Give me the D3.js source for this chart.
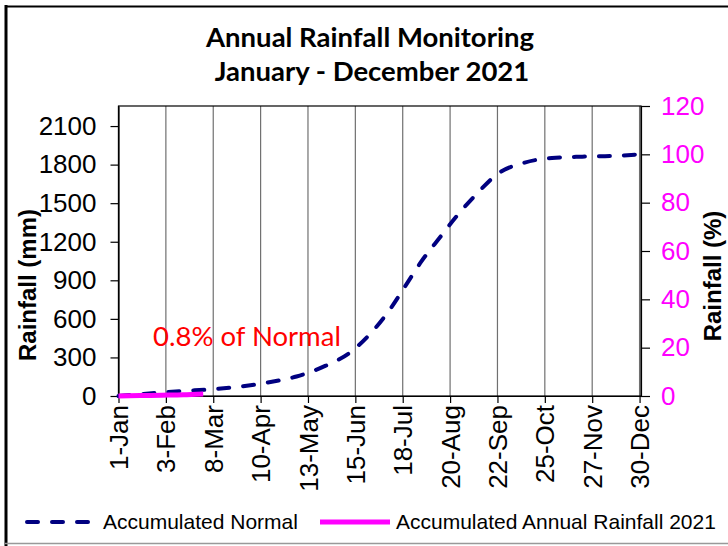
<!DOCTYPE html>
<html>
<head>
<meta charset="utf-8">
<script src="https://cdn.jsdelivr.net/npm/d3@7"></script>
<style>
  body { margin: 0; background: #fff; }
  svg { display: block; }
</style>
</head>
<body>
<script>
const w = 728;
const h = 546;

// accumulated normal rainfall (mm)
const normalDates = ["2021-01-01", "2021-01-26", "2021-02-15", "2021-03-07", "2021-03-27", "2021-04-16",
                     "2021-05-05", "2021-05-25", "2021-06-11", "2021-06-26", "2021-07-09", "2021-07-20",
                     "2021-07-31", "2021-08-13", "2021-08-25", "2021-09-08", "2021-09-22", "2021-10-11",
                     "2021-10-30", "2021-11-20", "2021-12-10", "2021-12-31"];
const normalMm = [0, 23, 39, 52, 74, 107, 152, 234, 336, 492, 672, 859,
                  1047, 1235, 1405, 1578, 1727, 1816, 1852, 1862, 1867, 1880];

// accumulated 2021 rainfall (mm)
const rainDates = ["2021-01-01", "2021-01-16", "2021-01-31", "2021-02-15", "2021-03-01"];
const rainMm = [0, 3, 6, 9, 15];

const xTickDates = ["2021-01-01", "2021-02-03", "2021-03-08", "2021-04-10", "2021-05-13", "2021-06-15",
                    "2021-07-18", "2021-08-20", "2021-09-22", "2021-10-25", "2021-11-27", "2021-12-30"];
const xTickLabels = ["1-Jan", "3-Feb", "8-Mar", "10-Apr", "13-May", "15-Jun",
                     "18-Jul", "20-Aug", "22-Sep", "25-Oct", "27-Nov", "30-Dec"];
const mmTicks = [0, 300, 600, 900, 1200, 1500, 1800, 2100];
const pctTicks = [0, 20, 40, 60, 80, 100, 120];

const plotLeft = 118.5, plotRight = 641, plotTop = 106, plotBottom = 396;
const parse = d3.timeParse("%Y-%m-%d");

const xScale = d3.scaleTime()
                 .domain([parse("2021-01-01"), parse("2021-12-31")])
                 .range([plotLeft, plotRight]);
const yScale = d3.scaleLinear()
                 .domain([0, 2256])
                 .range([plotBottom, plotTop]);
const pScale = d3.scaleLinear()
                 .domain([0, 120])
                 .range([plotBottom, plotTop]);

const svg = d3.select("body")
              .append("svg")
              .attr("width", w)
              .attr("height", h);

// chart frame
svg.append("line").attr("x1", 5).attr("x2", w).attr("y1", 6.5).attr("y2", 6.5)
   .attr("stroke", "#000").attr("stroke-width", 2);
svg.append("line").attr("x1", 6).attr("x2", 6).attr("y1", 5).attr("y2", h)
   .attr("stroke", "#000").attr("stroke-width", 3);
svg.append("line").attr("x1", 5).attr("x2", w).attr("y1", 543.5).attr("y2", 543.5)
   .attr("stroke", "#999").attr("stroke-width", 1.5);

// title
const title = svg.append("text")
   .attr("text-anchor", "middle")
   .attr("font-family", "Lato, 'Open Sans', sans-serif")
   .attr("font-weight", "bold")
   .attr("font-size", 27.5);
title.append("tspan").attr("x", 370).attr("y", 47).text("Annual Rainfall Monitoring");
title.append("tspan").attr("x", 372).attr("y", 81).text("January - December 2021");

// vertical gridlines
svg.append("g")
   .selectAll("line")
   .data(xTickDates)
   .enter()
   .append("line")
   .attr("x1", d => xScale(parse(d)))
   .attr("x2", d => xScale(parse(d)))
   .attr("y1", plotTop)
   .attr("y2", plotBottom)
   .attr("stroke", "#707070")
   .attr("stroke-width", 1.2);

// plot border
svg.append("rect")
   .attr("x", plotLeft).attr("y", plotTop)
   .attr("width", plotRight - plotLeft).attr("height", plotBottom - plotTop)
   .attr("fill", "none").attr("stroke", "#000").attr("stroke-width", 1.2);

const font = "'Liberation Sans', Arial, sans-serif";

const xAxis = d3.axisBottom(xScale)
                .tickValues(xTickDates.map(parse))
                .tickFormat((d, i) => xTickLabels[i])
                .tickSize(7)
                .tickSizeOuter(0);
const gx = svg.append("g")
   .attr("id", "x-axis")
   .attr("transform", "translate(0," + plotBottom + ")")
   .call(xAxis);
gx.selectAll("text")
  .attr("transform", "rotate(-90)")
  .attr("text-anchor", "end")
  .attr("x", -9)
  .attr("y", 0)
  .attr("dy", "0.35em");

const yAxis = d3.axisLeft(yScale)
                .tickValues(mmTicks)
                .tickFormat(d3.format("d"))
                .tickSize(8)
                .tickPadding(14)
                .tickSizeOuter(0);
svg.append("g")
   .attr("id", "y-axis")
   .attr("transform", "translate(" + plotLeft + ",0)")
   .call(yAxis);

const pAxis = d3.axisRight(pScale)
                .tickValues(pctTicks)
                .tickFormat(d3.format("d"))
                .tickSize(9)
                .tickPadding(11)
                .tickSizeOuter(0);
const gp = svg.append("g")
   .attr("id", "p-axis")
   .attr("transform", "translate(" + plotRight + ",0)")
   .call(pAxis);
gp.selectAll("text").attr("fill", "#ff00ff");

svg.selectAll(".domain").attr("stroke", "#000").attr("stroke-width", 1.2);
svg.selectAll(".tick line").attr("stroke", "#000").attr("stroke-width", 1.2);
svg.selectAll(".tick text").attr("font-family", font).attr("font-size", 26);

// axis titles
svg.append("text")
   .attr("transform", "translate(36,285) rotate(-90)")
   .attr("text-anchor", "middle")
   .attr("font-family", font)
   .attr("font-weight", "bold")
   .attr("font-size", 24)
   .text("Rainfall (mm)");
svg.append("text")
   .attr("transform", "translate(721,276) rotate(-90)")
   .attr("text-anchor", "middle")
   .attr("font-family", font)
   .attr("font-weight", "bold")
   .attr("font-size", 24)
   .text("Rainfall (%)");

// lines
const line = d3.line()
               .x(d => xScale(parse(d[0])))
               .y(d => yScale(d[1]))
               .curve(d3.curveMonotoneX);

svg.append("path")
   .datum(normalDates.map((d, i) => [d, normalMm[i]]))
   .attr("d", line)
   .attr("fill", "none")
   .attr("stroke", "#000080")
   .attr("stroke-width", 4)
   .attr("stroke-linecap", "round")
   .attr("stroke-dasharray", "11,14");

svg.append("path")
   .datum(rainDates.map((d, i) => [d, rainMm[i]]))
   .attr("d", line)
   .attr("fill", "none")
   .attr("stroke", "#ff00ff")
   .attr("stroke-width", 5);

// annotation
svg.append("text")
   .attr("x", 153)
   .attr("y", 346)
   .attr("fill", "#ff0000")
   .attr("font-family", "Lato, 'Open Sans', sans-serif")
   .attr("font-size", 27.5)
   .text("0.8% of Normal");

// legend
const lg = svg.append("g").attr("font-family", font).attr("font-size", 21);
lg.append("line").attr("x1", 27).attr("x2", 97).attr("y1", 522).attr("y2", 522)
  .attr("stroke", "#000080").attr("stroke-width", 4)
  .attr("stroke-linecap", "round").attr("stroke-dasharray", "11,14");
lg.append("text").attr("x", 103).attr("y", 529).text("Accumulated Normal");
lg.append("line").attr("x1", 320).attr("x2", 390).attr("y1", 522).attr("y2", 522)
  .attr("stroke", "#ff00ff").attr("stroke-width", 5);
lg.append("text").attr("x", 396).attr("y", 529).text("Accumulated Annual Rainfall 2021");
</script>
</body>
</html>
